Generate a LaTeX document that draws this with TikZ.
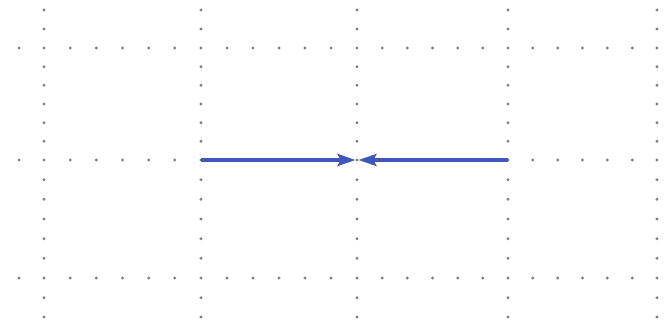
\documentclass[tikz,border=0pt]{standalone}
\usetikzlibrary{arrows.meta}
\definecolor{vecblue}{RGB}{64,86,186}
\begin{document}
\begin{tikzpicture}[x=0.5pt,y=-0.5pt]
\tikzset{
  griddot/.style={fill=black!50,draw=none},
  vector/.style={-{Stealth[length=9pt,width=6pt,inset=1.6pt]},line width=1.6pt,draw=vecblue}
}
\useasboundingbox (0,0) rectangle (666,327);
% dotted grid
\foreach \gx in {44,201,357,508,657}
  \foreach \gy in {10,29,48,66.7,85.3,104,122.7,141.3,160,179.7,199.3,219,238.7,258.3,278,297.7,317}
    \fill[griddot] (\gx,\gy) circle (1.6);
\foreach \gy in {48,160,278}{
  \fill[griddot] (19,\gy) circle (1.6);
  \foreach \xa/\xb in {44/201,201/357,357/508,508/657}
    \foreach \k in {1,...,5}
      \fill[griddot] ({\xa+(\xb-\xa)*\k/6},\gy) circle (1.6);
}
% vectors
\coordinate (v_l) at (201,160);
\coordinate (v_m1) at (355.5,160);
\coordinate (v_m2) at (358.5,160);
\coordinate (v_r) at (508,160);
\draw[vector] (v_l) -- (v_m1);
\draw[vector] (v_r) -- (v_m2);
\end{tikzpicture}
\end{document}
